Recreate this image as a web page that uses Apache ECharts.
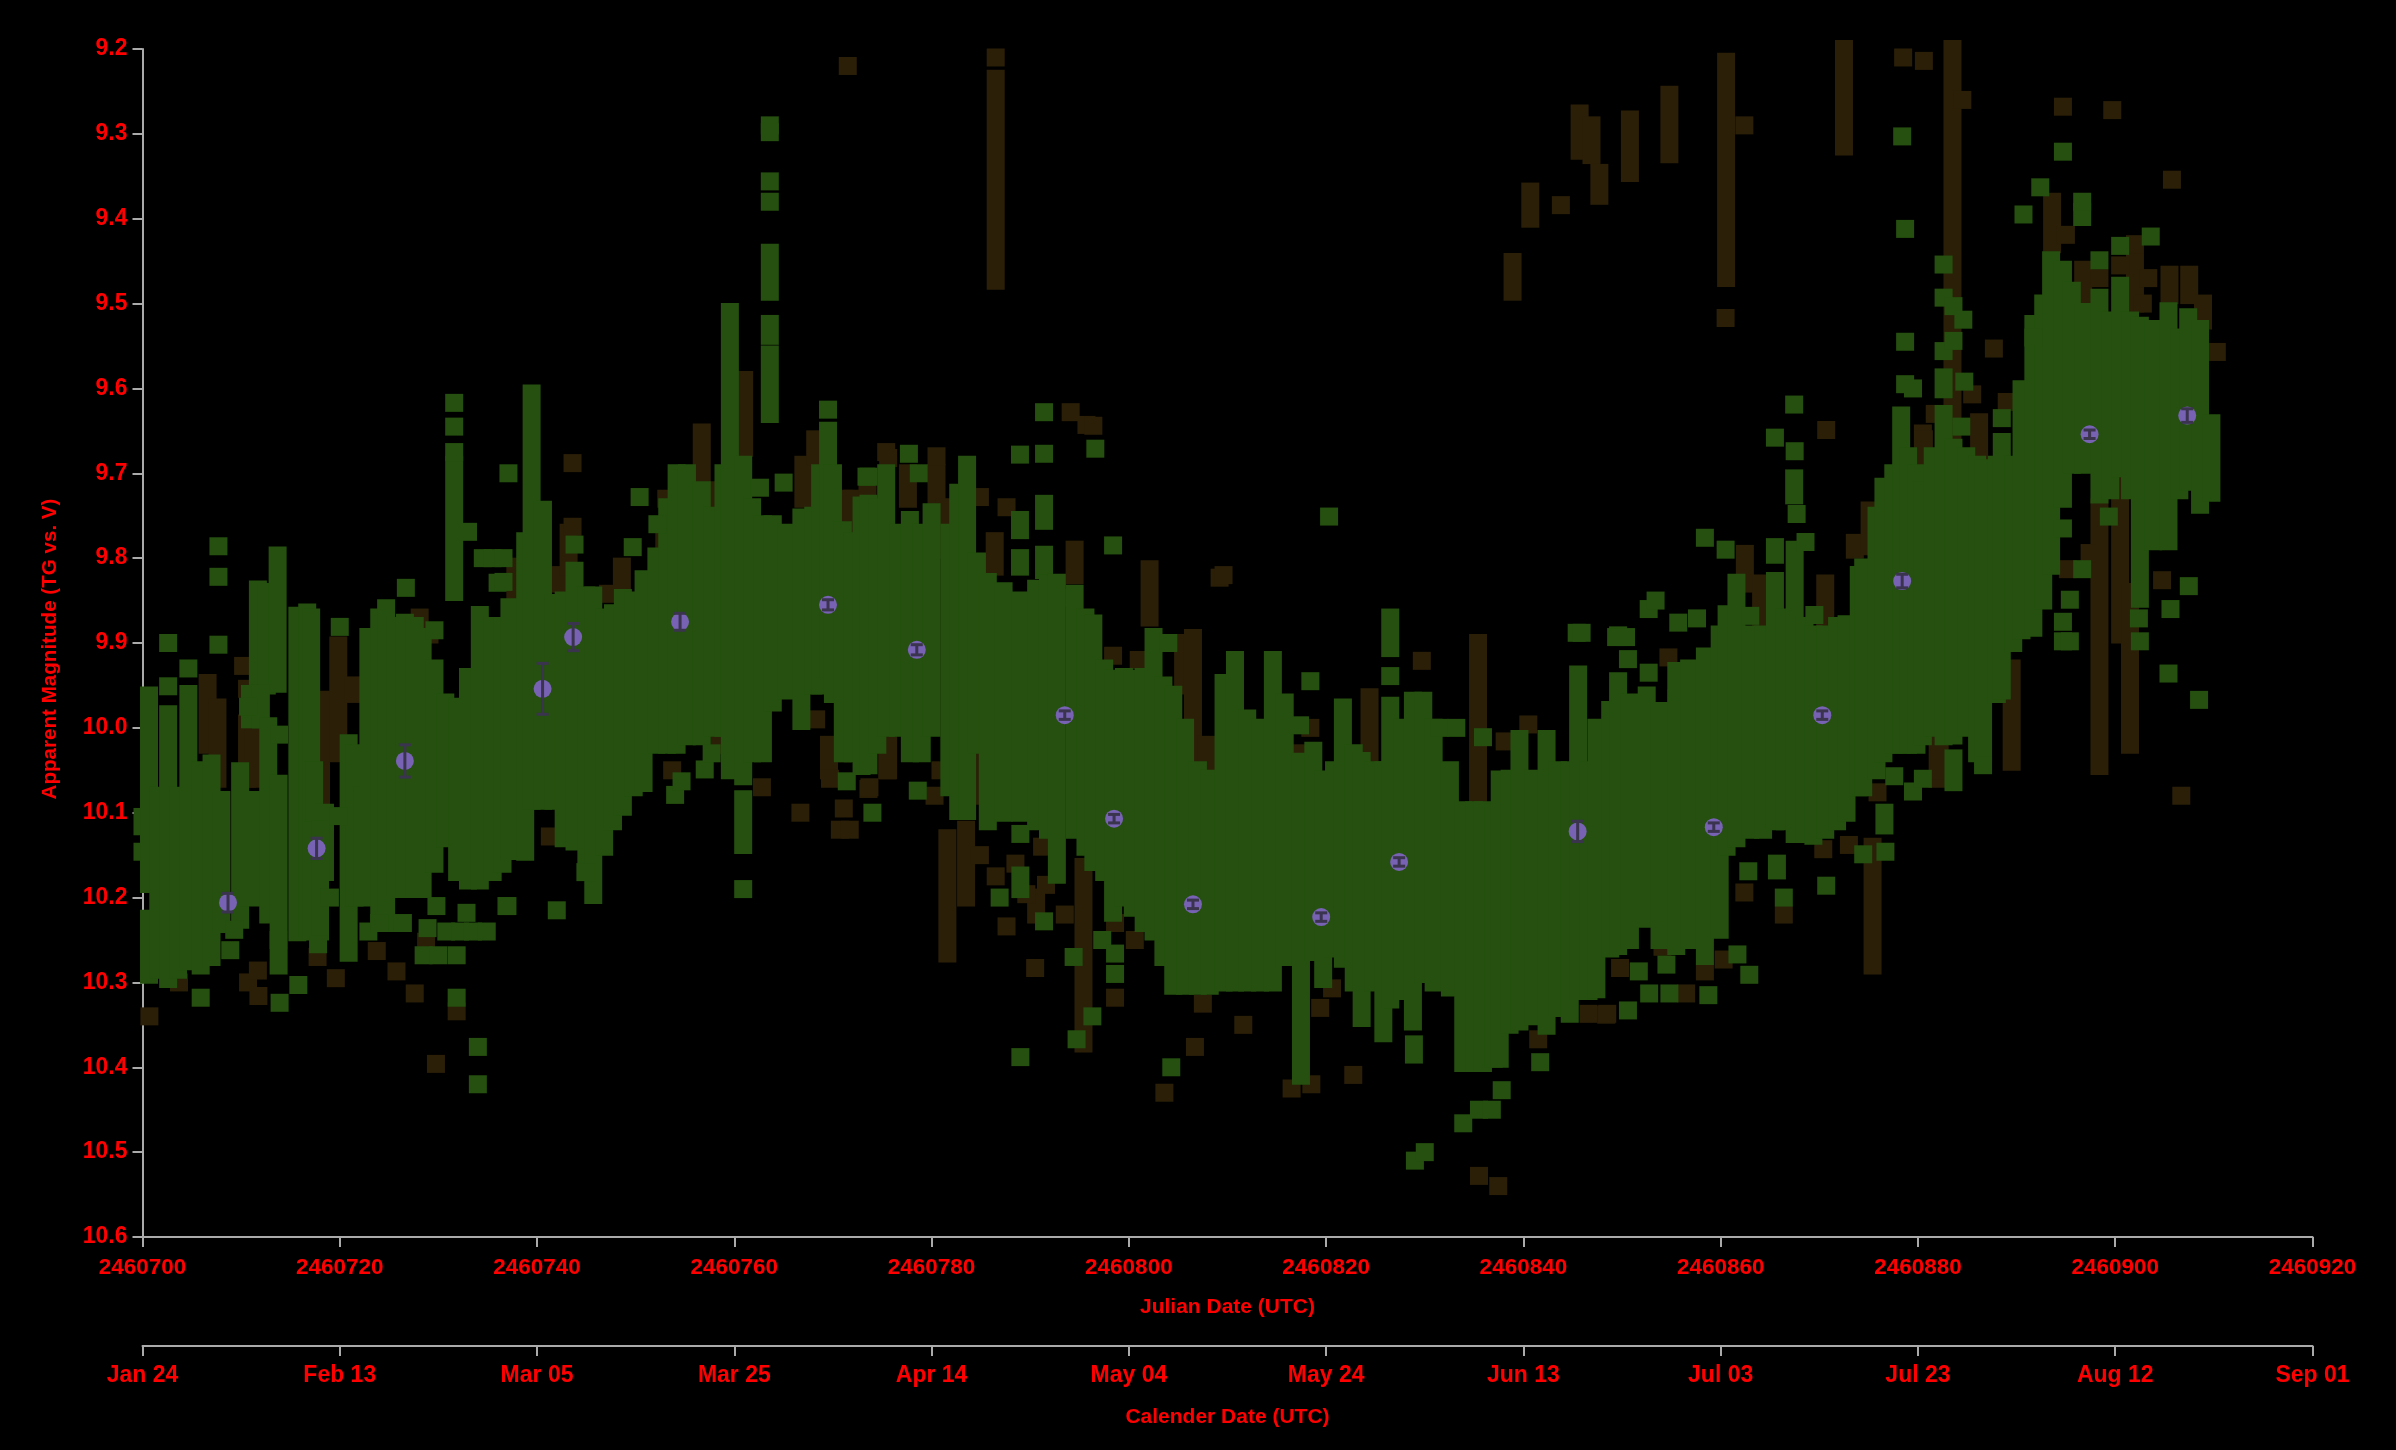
<!DOCTYPE html>
<html>
<head>
<meta charset="utf-8">
<title>Apparent Magnitude</title>
<script src="https://cdn.jsdelivr.net/npm/echarts@6/dist/echarts.min.js"></script>
<style>html,body{margin:0;padding:0;background:#000}#c{width:2396px;height:1450px}</style>
</head>
<body>
<div id="c"></div>
<script>
const magTicks = ['9.2','9.3','9.4','9.5','9.6','9.7','9.8','9.9','10.0','10.1','10.2','10.3','10.4','10.5','10.6'];
const julianTicks = ['2460700','2460720','2460740','2460760','2460780','2460800','2460820','2460840','2460860','2460880','2460900','2460920'];
const calendarTicks = ['Jan 24','Feb 13','Mar 05','Mar 25','Apr 14','May 04','May 24','Jun 13','Jul 03','Jul 23','Aug 12','Sep 01'];

// [days since JD 2460700, brightest mag, faintest mag] of each night's visual observations
const brownRanges = [
[6.6,9.947,10.02],[7.6,9.976,10.06],[10.6,9.995,10.06],[11.3,10.0,10.06],[18.1,9.967,10.09],[19.85,9.903,10.03],[21.4,9.95,9.96],
[37.8,9.81,9.84],[42.15,9.82,9.83],[43.2,9.77,9.81],[48.6,9.81,9.83],[56.7,9.652,9.72],[58.2,9.72,9.74],[61,9.59,9.67],[67,9.69,9.73],[68.2,9.66,9.68],
[69.6,10.02,10.05],[71,10.02,10.03],[71.2,9.73,9.76],[72,9.73,9.76],[75.5,10.02,10.05],[75.6,10.02,10.05],[77.6,9.70,9.73],[80.5,9.70,9.74],[81.3,9.74,9.79],
[81.6,10.13,10.266],[83.5,10.12,10.2],[84.2,10.02,10.08],[86.4,9.78,9.81],[86.5,9.235,9.473],[90.6,10.2,10.22],[94.5,9.79,9.82],[95.4,10.164,10.372],
[102.1,9.813,9.87],[105.5,9.90,9.95],[106.5,9.894,10.05],[107.9,10.02,10.04],[112.1,10.0,10.02],[124.4,9.964,10.035],[135.4,9.90,10.09],
[138.9,9.451,9.486],[140.7,9.368,9.40],[145.7,9.276,9.32],[146.9,9.29,9.325],[147.7,9.346,9.373],[150.8,9.283,9.346],[154.8,9.254,9.324],[160.55,9.215,9.47],
[162.45,9.795,9.83],[164.1,9.83,9.88],[170.6,9.83,9.87],[172.5,9.20,9.315],[173.6,9.782,9.79],[175.1,9.744,9.786],[175.4,10.14,10.28],[180.5,9.653,9.70],[180.6,9.66,9.70],
[182,9.89,9.92],[182,10.02,10.06],[182.2,10.0,10.05],[183.5,9.20,9.65],[186.2,9.64,9.68],[189.5,9.93,10.04],[193.6,9.38,9.43],[196.75,9.46,9.50],
[198.4,9.74,10.045],[200.5,9.71,9.89],[201.5,9.84,10.02],[202,9.45,9.5],[205.5,9.466,9.49],[207.5,9.466,9.49],[208.9,9.50,9.52]
];
const brownPoints = [
[0.7,10.34],[3.7,10.30],[10.2,9.927],[10.6,9.954],[10.7,10.30],[11.7,10.286],[11.75,10.316],[13.77,10.25],[17.75,10.27],[19.6,10.295],[23.75,10.263],[25.75,10.287],
[27.6,10.313],[28.1,9.87],[28.75,10.252],[29.1,9.89],[29.75,10.396],[31.85,10.334],[41.3,10.128],[43.6,9.688],[43.6,9.763],[47.2,9.842],[52.9,9.78],[54,9.78],[53.1,9.73],[53.5,9.75],
[53.7,10.05],[58.5,10.02],[62.8,10.07],[66.7,10.1],[68.3,9.99],[69.7,10.06],[70.7,10.12],[71.1,10.095],[71.5,9.22],[71.7,10.12],[73.5,9.72],[73.6,10.072],[73.7,10.07],[75.4,9.675],[75.6,9.682],
[80.3,10.08],[80.5,9.68],[80.9,10.05],[84.9,9.728],[84.9,10.15],[86.5,9.21],[86.5,10.175],[87.6,9.74],[87.6,10.234],[88.5,10.16],[89.6,10.196],[90.5,10.283],[91.2,10.14],[91.6,10.185],[92.9,9.847],[93.5,10.22],
[94.1,9.628],[95.7,9.643],[96.4,9.644],[98.4,9.915],[98.6,10.23],[98.6,10.318],[100.6,10.25],[101,9.92],[103.6,10.43],[106.7,10.376],[107.5,10.325],[109.2,9.823],[109.6,9.82],[111.6,10.35],
[112.1,10.016],[116.5,10.425],[117,10.03],[118.4,10.0],[118.5,10.42],[119.4,10.33],[120.6,10.307],[122.75,10.409],[129.7,9.921],[135.5,10.528],[137.45,10.54],[138.1,10.016],[140.5,9.996],[141.5,10.367],
[143.8,9.384],[146.6,10.337],[148.4,10.338],[148.5,10.337],[149.8,10.283],[154.1,10.258],[154.7,9.917],[155.5,9.965],[156.5,10.313],[158.4,10.287],[160.3,10.273],[160.5,9.517],[162.4,9.29],[162.4,10.194],[166.4,10.22],
[170.4,10.143],[170.7,9.649],[173,10.138],[175.9,10.076],[178.5,9.21],[180,9.729],[180.6,9.214],[181.7,9.63],[184.5,9.26],[185.5,9.607],[187.7,9.553],[189,9.616],[194.7,9.268],[195,9.419],[195.2,9.813],[197.4,9.794],
[198.4,9.47],[199.7,9.272],[200.5,9.455],[202,9.43],[202.8,9.50],[203.35,9.47],[204.75,9.826],[205.75,9.354],[206.7,10.08],[210.3,9.557]
];
const greenRanges = [
[0,10.105,10.116],[0,10.146,10.146],[0.66,9.962,10.184],[0.66,10.225,10.291],[1.6,10.08,10.285],[2.6,9.984,10.296],[3.6,10.08,10.285],[4.65,9.96,10.275],[5.9,10.05,10.28],[7,10.042,10.27],[8,10.085,10.231],[9.9,10.051,10.226],[11,10.085,10.2],
[11.7,9.837,9.948],[12.6,9.84,9.95],[13.7,9.797,9.948],[10.9,9.96,9.99],[12,9.96,9.99],[12.75,9.998,10.22],[13.8,10.066,10.28],[13.85,10.008,10.008],[15.7,9.868,10.241],[16.7,9.864,10.236],[17.1,9.87,10.24],[17.4,10.05,10.1],[18.5,10.1,10.17],[18,10.12,10.24],
[20.9,10.018,10.265],[21.5,10.03,10.2],[22.3,10.08,10.2],[22.9,9.893,10.178],[24,9.87,10.23],[24.7,9.859,10.23],[25.6,9.88,10.19],[26.6,9.876,10.19],[27.6,9.88,10.19],[28.4,9.893,10.19],[29.6,9.93,10.16],
[30.7,9.97,10.13],[31.6,9.69,9.84],[31.9,9.975,10.17],[33,9.94,10.18],[34.2,9.867,10.18],[35.5,9.88,10.17],[36.5,9.88,10.16],[37.2,9.858,10.145],[38.8,9.78,10.146],[39.45,9.606,10.086],[40.6,9.743,10.086],[41.65,9.853,10.086],
[42.7,9.85,10.13],[43.8,9.815,10.134],[45,9.844,10.16],[45.7,9.844,10.197],[46.8,9.87,10.14],[47.7,9.865,10.11],[48.7,9.847,10.093],[49.8,9.85,10.07],[50.8,9.825,10.065],[52.1,9.798,10.02],[53.2,9.74,10.02],[54.15,9.70,10.02],[55.2,9.70,10.01],
[56.7,9.72,10.01],[57.8,9.75,10.0],[58.9,9.70,10.0],[59.55,9.51,10.05],[60.9,9.69,10.057],[60.9,10.084,10.138],[61.8,9.74,10.03],[62.9,9.76,10.03],[63.6,9.44,9.486],[63.6,9.524,9.538],[63.6,9.56,9.63],[63.9,9.76,9.97],[65.3,9.77,9.956],
[66.8,9.752,9.992],[68,9.75,9.95],[68.7,9.70,9.95],[69.5,9.65,9.93],[70,9.7,9.96],[71,9.767,10.03],[72,9.78,10.03],[72.9,9.738,10.045],[73.6,9.736,10.044],[74.5,9.74,10.02],[75.4,9.70,10.0],[76.6,9.77,10.0],[77.8,9.755,10.03],[79,9.77,10.03],[80,9.746,10.0],
[81.8,9.77,10.07],[82.7,9.723,10.098],[83.6,9.69,10.098],[84.6,9.804,10.02],[85.7,9.828,10.11],[87.3,9.839,10.10],[88.96,9.755,9.767],[88.96,9.80,9.81],[89,9.85,10.1],[89,10.174,10.19],[90.6,9.836,10.11],[91.4,9.736,9.756],[91.4,9.796,9.814],[91.8,9.83,10.12],
[92.7,9.829,10.173],[94.5,9.842,10.12],[95.6,9.87,10.14],[96.4,9.877,10.158],[97.5,9.93,10.17],[98.4,9.942,10.218],[99.5,9.94,10.20],[100.4,9.942,10.212],[101.5,9.94,10.23],[102.5,9.893,10.24],[103.5,9.95,10.27],[104.5,9.961,10.304],
[105.7,10.0,10.304],[107,10.05,10.304],[108.2,10.06,10.304],[109.6,9.947,10.30],[110.76,9.92,10.30],[112,9.989,10.30],[113.3,10.0,10.30],[114.6,9.92,10.30],[115.8,9.97,10.27],[117.45,10.04,10.41],[118.7,10.027,10.264],[119.7,10.061,10.296],[120.8,10.05,10.26],
[121.7,9.976,10.272],[122.8,10.03,10.30],[123.6,10.039,10.342],[124.8,10.05,10.30],[125.8,10.05,10.36],[126.5,9.87,9.906],[126.5,9.974,10.32],[127.7,10.0,10.31],[128.8,9.968,10.346],[128.9,10.373,10.385],[129.85,9.968,10.29],[130.9,10.0,10.3],
[132.55,10.05,10.306],[133.9,10.097,10.395],[135,10.097,10.395],[135.9,10.097,10.395],[137,10.1,10.39],[137.6,10.061,10.39],[138.6,10.06,10.35],[139.6,10.013,10.346],[141,10.06,10.34],[142.35,10.013,10.351],[143.5,10.05,10.33],[144.7,10.05,10.337],
[145.55,9.937,10.31],[146.6,10.05,10.31],[147.4,10.0,10.308],[148.8,9.979,10.26],[149.6,9.945,10.257],[150.8,9.97,10.25],[152.5,9.962,10.225],[153.8,9.98,10.25],[155.5,9.933,10.257],[156.8,9.93,10.25],[158.4,9.916,10.269],[159.9,9.89,10.238],
[160.6,9.866,10.14],[161.6,9.829,10.13],[163,9.89,10.12],[164.3,9.89,10.12],[165.5,9.827,10.11],[165.5,9.787,9.796],[165.7,10.16,10.168],[166.5,9.87,10.11],[167.45,9.706,9.726],[167.5,9.79,10.125],[168.5,9.88,10.125],[169.4,9.89,10.127],[170.6,9.89,10.12],
[171.8,9.88,10.11],[172.76,9.878,10.1],[174,9.82,10.07],[174.45,9.811,10.07],[175.8,9.75,10.05],[176.5,9.716,10.03],[176.6,10.1,10.115],[177.5,9.7,10.02],[178.3,9.632,10.02],[179,9.68,10.02],[179.85,9.70,10.02],[180.5,9.72,10.01],[181.5,9.68,10.0],
[182.6,9.63,10.01],[182.6,9.587,9.601],[183.6,9.67,10.009],[183.6,10.036,10.064],[184.9,9.68,10.0],[186,9.69,10.03],[186.6,9.694,10.03],[188,9.69,9.96],[188.5,9.663,9.956],[189.66,9.69,9.90],[190.5,9.601,9.885],[191.7,9.524,9.882],
[192.7,9.5,9.85],[193.5,9.449,9.809],[194.7,9.46,9.73],[195.6,9.485,9.69],[196.75,9.51,9.69],[196.65,9.392,9.398],[198.4,9.493,9.725],[199.5,9.52,9.72],[200.5,9.479,9.694],[201.5,9.52,9.72],[202.5,9.526,9.848],[203.85,9.53,9.78],[205.4,9.509,9.78],
[206.5,9.54,9.72],[207.4,9.516,9.71],[208.6,9.53,9.737],[209.75,9.641,9.723]
];
const greenPoints = [
[2.6,9.9],[2.6,9.951],[4.65,9.93],[5.9,10.318],[7.7,9.786],[7.7,9.822],[7.7,9.902],[8.9,10.262],[9.3,10.238],[10.7,9.975],[15.8,10.303],[13.9,10.324],[17.8,10.255],[19,10.2],[19.85,10.104],[20,9.881],
[22.9,10.24],[24,10.23],[26.4,10.23],[26.7,9.835],[28.5,10.268],[28.9,10.236],[29.6,9.885],[29.8,10.21],[30,10.268],[30.8,10.24],[31.6,9.617],[31.6,9.645],[31.6,9.675],[31.85,10.268],[31.85,10.318],[32.2,10.24],[32.85,10.218],
[33,9.769],[33.5,10.24],[34,10.376],[34,10.42],[34.5,9.8],[34.9,10.24],[35.5,9.8],[36,9.829],[36.6,9.80],[36.6,9.828],[36.9,10.21],[37,10.21],[37.1,9.7],[42,10.215],[43.8,9.784],[44.9,10.17],[49.7,9.787],[50.4,9.728],[52.2,9.76],
[54,10.079],[54.65,10.063],[57,10.049],[57.7,10.03],[60.9,10.19],[62.6,9.717],[63.6,9.29],[63.6,9.298],[63.6,9.356],[63.6,9.38],[65,9.711],[69.5,9.625],[71.4,10.063],[73.4,9.704],[73.6,9.704],[74,10.1],[77.7,9.677],[78.6,10.074],[78.7,9.70],
[86.9,10.2],[88.96,9.678],[89,10.125],[89,10.388],[91.4,9.628],[91.4,9.677],[91.4,10.228],[94.4,10.27],[94.7,10.367],[96.3,10.34],[96.6,9.671],[97.3,10.25],[98.4,9.785],[98.6,10.266],[98.6,10.29],[104,9.9],[104.3,10.40],
[118.4,9.945],[117.35,9.997],[120.3,9.751],[126.5,9.939],[129,10.51],[130,10.5],[131.5,10.0],[133.2,10.0],[133.9,10.466],[135.5,10.45],[136.8,10.45],[135.9,10.011],[137.8,10.427],[141.7,10.394],[145.4,9.888],[149.6,9.891],
[145.9,9.888],[149.4,9.893],[150.4,9.893],[150.6,9.919],[150.6,10.333],[151.7,10.287],[152.7,9.86],[152.7,9.935],[152.75,10.313],[153.4,9.85],[154.5,10.279],[154.8,10.313],[155.7,9.876],[157.6,9.871],[158.4,9.776],[158.75,10.315],
[160.5,9.79],[161.7,10.267],[162.8,10.169],[162.9,10.291],[163,9.868],[165.5,9.658],[166.4,10.2],[167.45,9.619],[167.5,9.674],[167.7,9.748],[168.6,9.781],[169.5,9.867],[170.7,10.186],[174.45,10.149],[176.7,10.146],[177.6,10.057],
[178.4,9.303],[178.7,9.412],[178.7,9.545],[178.7,9.595],[179.5,9.6],[179.5,10.075],[180.5,10.06],[182.6,9.454],[182.6,9.493],[182.6,9.556],[183.6,9.503],[183.6,9.544],[184.4,9.645],[184.6,9.519],[184.7,9.592],
[186.6,10.044],[188.5,9.635],[190.7,9.395],[191.7,9.54],[192.4,9.363],[194.7,9.321],[194.7,9.765],[194.7,9.875],[194.7,9.898],[195.4,9.849],[195.4,9.898],[196.65,9.38],[196.65,9.813],[198.4,9.449],[199.35,9.751],[200.5,9.432],
[202.4,9.871],[202.5,9.898],[203.6,9.421],[205.4,9.936],[205.6,9.86],[207.46,9.833],[208.5,9.967]
];
// nightly means with their error bars
const meanDays = [8.67,17.65,26.6,40.56,43.66,54.5,69.5,78.5,93.5,98.5,106.5,119.5,127.4,145.5,159.3,170.3,178.4,197.4,207.3];
const meanMags = [10.206,10.142,10.039,9.954,9.893,9.875,9.855,9.908,9.985,10.107,10.208,10.223,10.158,10.122,10.117,9.985,9.827,9.654,9.632];
const meanErrs = [0.011,0.012,0.019,0.03,0.016,0.010,0.006,0.006,0.005,0.005,0.005,0.005,0.005,0.012,0.005,0.005,0.008,0.005,0.008];

const RED = '#ff0000', GREY = '#aaaaaa', GREEN = '#25500f', BROWN = '#2b1f08', PURPLE = '#7762b3', DARK = '#3b344f';
const FONT = '"Liberation Sans", Arial, sans-serif';
const tickFont = {color: RED, fontFamily: FONT, fontWeight: 'bold', fontSize: 23};
const nameFont = {color: RED, fontFamily: FONT, fontWeight: 'bold', fontSize: 21};
const line = {show: true, onZero: false, lineStyle: {color: GREY, width: 2}};
const tick = {show: true, length: 10, lineStyle: {color: GREY, width: 2}};
const BOX = 18;

function rangeSeries(data, color, name, z) {
  return {
    type: 'custom', name, data, silent: true, clip: false, z,
    encode: {x: 0, y: [1, 2]},
    renderItem: (p, api) => {
      const a = api.coord([api.value(0), api.value(1)]);
      const b = api.coord([api.value(0), api.value(2)]);
      return {type: 'rect', shape: {x: a[0] - BOX / 2, y: a[1] - BOX / 2, width: BOX, height: b[1] - a[1] + BOX}, style: {fill: color}};
    }
  };
}
function pointSeries(data, color, name, z) {
  return {type: 'scatter', name, data, symbol: 'rect', symbolSize: BOX, itemStyle: {color, opacity: 1}, silent: true, clip: false, z};
}
const means = meanDays.map((d, i) => [d, meanMags[i]]);
const errs = meanDays.map((d, i) => [d, meanMags[i] - meanErrs[i], meanMags[i] + meanErrs[i]]);

const chart = echarts.init(document.getElementById('c'), null, {renderer: 'canvas'});
chart.setOption({
  animation: false,
  backgroundColor: '#000000',
  grid: {left: 142.5, top: 49, width: 2170, height: 1188, containLabel: false},
  xAxis: [
    {type: 'value', min: 0, max: 220, interval: 20, position: 'bottom', splitLine: {show: false}, axisLine: line, axisTick: tick,
     axisLabel: {...tickFont, fontSize: 22.5, margin: 19, formatter: v => julianTicks[Math.round(v / 20)]},
     name: 'Julian Date (UTC)', nameLocation: 'middle', nameGap: 60, nameTextStyle: nameFont},
    {type: 'value', min: 0, max: 220, interval: 20, position: 'bottom', offset: 109, splitLine: {show: false}, axisLine: line, axisTick: tick,
     axisLabel: {...tickFont, margin: 18, formatter: v => calendarTicks[Math.round(v / 20)]},
     name: 'Calender Date (UTC)', nameLocation: 'middle', nameGap: 61, nameTextStyle: nameFont}
  ],
  yAxis: {type: 'value', min: 9.2, max: 10.6, interval: 0.1, inverse: true, splitLine: {show: false}, axisLine: line, axisTick: tick,
    axisLabel: {...tickFont, margin: 15, formatter: v => magTicks[Math.round((v - 9.2) * 10)]},
    name: 'Apparent Magnitude (TG vs. V)', nameLocation: 'middle', nameGap: 82, nameRotate: 90,
    nameTextStyle: {...nameFont, fontSize: 20.6, padding: [0, 12, 0, 0]}},
  series: [
    rangeSeries(brownRanges, BROWN, 'Visual ranges', 1),
    pointSeries(brownPoints, BROWN, 'Visual', 2),
    rangeSeries(greenRanges, GREEN, 'TG ranges', 3),
    pointSeries(greenPoints, GREEN, 'TG', 4),
    {type: 'scatter', name: 'Means', data: means, symbol: 'circle', symbolSize: 18, itemStyle: {color: PURPLE, opacity: 1}, silent: true, clip: false, z: 5},
    {type: 'custom', name: 'Mean errors', data: errs, silent: true, clip: false, z: 6, encode: {x: 0, y: [1, 2]},
     renderItem: (p, api) => {
       const a = api.coord([api.value(0), api.value(1)]);
       const b = api.coord([api.value(0), api.value(2)]);
       const st = {stroke: DARK, lineWidth: 3};
       return {type: 'group', children: [
         {type: 'line', shape: {x1: a[0], y1: a[1], x2: b[0], y2: b[1]}, style: st},
         {type: 'line', shape: {x1: a[0] - 6, y1: a[1], x2: a[0] + 6, y2: a[1]}, style: st},
         {type: 'line', shape: {x1: b[0] - 6, y1: b[1], x2: b[0] + 6, y2: b[1]}, style: st}
       ]};
     }}
  ]
});
</script>
</body>
</html>
